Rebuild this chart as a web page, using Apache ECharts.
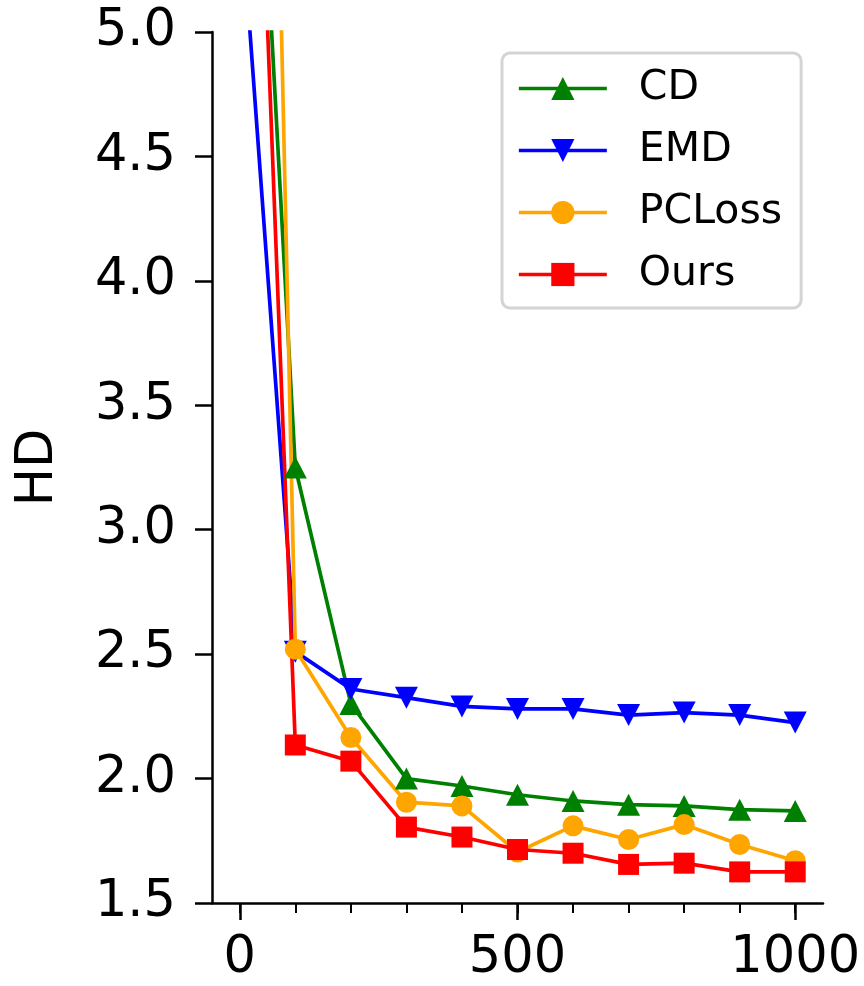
<!DOCTYPE html>
<html>
<head>
<meta charset="utf-8">
<script src="https://cdn.jsdelivr.net/npm/echarts@6/dist/echarts.min.js"></script>
<style>
  html, body { margin: 0; padding: 0; background: #fff; overflow: hidden; }
  #chart { width: 864px; height: 986px; }
</style>
</head>
<body>
<div id="chart"></div>
<script>
// x positions (iterations)
var xValues = [0, 100, 200, 300, 400, 500, 600, 700, 800, 900, 1000];
var xMajorTicks = [0, 500, 1000];
var xMinorTicks = [0, 100, 200, 300, 400, 500, 600, 700, 800, 900, 1000];

// HD values (first point lies above the visible range)
var cdData     = [7.35, 3.25, 2.30, 2.00, 1.97, 1.935, 1.91, 1.895, 1.89, 1.875, 1.87];
var emdData    = [5.56, 2.51, 2.36, 2.325, 2.29, 2.28, 2.28, 2.255, 2.265, 2.255, 2.225];
var pclossData = [12.5, 2.52, 2.165, 1.905, 1.89, 1.705, 1.81, 1.755, 1.815, 1.735, 1.67];
var oursData   = [7.9, 2.135, 2.07, 1.805, 1.765, 1.715, 1.70, 1.655, 1.66, 1.625, 1.625];

var nameList = ['CD', 'EMD', 'PCLoss', 'Ours'];

function pairs(ys) {
    var out = [];
    for (var i = 0; i < xValues.length; i++) {
        out.push([xValues[i], ys[i]]);
    }
    return out;
}

var fontFamily = 'DejaVu Sans';

function makeSeries(name, data, color, symbol, size, rotate) {
    return {
        name: name,
        type: 'line',
        xAxisIndex: 0,
        data: pairs(data),
        symbol: symbol,
        symbolSize: size,
        symbolRotate: rotate || 0,
        showAllSymbol: true,
        clip: true,
        lineStyle: { color: color, width: 3.7 },
        itemStyle: { color: color, borderWidth: 0 },
        emphasis: { disabled: true },
        animation: false
    };
}

var option = {
    animation: false,
    legend: {
        orient: 'vertical',
        left: 502,
        top: 53,
        padding: [15, 19, 13, 15],
        itemWidth: 88,
        itemHeight: 29,
        itemGap: 21,
        backgroundColor: '#fff',
        borderColor: '#d4d4d4',
        borderWidth: 3,
        borderRadius: 8,
        lineStyle: { width: 3.7 },
        textStyle: {
            fontFamily: fontFamily,
            fontSize: 41,
            lineHeight: 41,
            color: '#000',
            padding: [0, 0, 0, 27]
        },
        data: nameList
    },
    grid: {
        left: 212,
        right: 41,
        top: 32,
        bottom: 83,
        containLabel: false
    },
    xAxis: [{
        type: 'value',
        min: -50,
        max: 1050,
        position: 'bottom',
        axisLine: { show: true, onZero: false, lineStyle: { color: '#000', width: 2.5 } },
        axisTick: { show: true, customValues: xMinorTicks, length: 10, lineStyle: { color: '#000', width: 2 } },
        axisLabel: { show: false },
        splitLine: { show: false }
    }, {
        type: 'value',
        min: -50,
        max: 1050,
        position: 'bottom',
        axisLine: { show: false, onZero: false },
        axisTick: { show: true, customValues: xMajorTicks, length: 17, lineStyle: { color: '#000', width: 2.5 } },
        axisLabel: {
            show: true,
            customValues: xMajorTicks,
            margin: 30,
            fontFamily: fontFamily,
            fontSize: 51,
            color: '#000',
            formatter: function (v) { return String(v); }
        },
        splitLine: { show: false }
    }],
    yAxis: {
        type: 'value',
        min: 1.5,
        max: 5.0,
        interval: 0.5,
        name: 'HD',
        nameLocation: 'middle',
        nameRotate: 90,
        nameGap: 148,
        nameTextStyle: { fontFamily: fontFamily, fontSize: 51, color: '#000' },
        axisLine: { show: true, onZero: false, lineStyle: { color: '#000', width: 2.5 } },
        axisTick: { show: true, length: 17, lineStyle: { color: '#000', width: 2.5 } },
        axisLabel: {
            margin: 36,
            fontFamily: fontFamily,
            fontSize: 51,
            color: '#000',
            formatter: function (v) { return v.toFixed(1); }
        },
        splitLine: { show: false }
    },
    series: [
        makeSeries(nameList[0], cdData, '#008000', 'triangle', [23, 22]),
        makeSeries(nameList[1], emdData, '#0000ff', 'triangle', [23, 22], 180),
        makeSeries(nameList[2], pclossData, '#ffa500', 'circle', 21),
        makeSeries(nameList[3], oursData, '#ff0000', 'rect', 21)
    ]
};

var chartDiv = document.getElementById('chart');
var chart = echarts.init(chartDiv, null, { renderer: 'canvas' });
chart.setOption(option);
</script>
</body>
</html>
